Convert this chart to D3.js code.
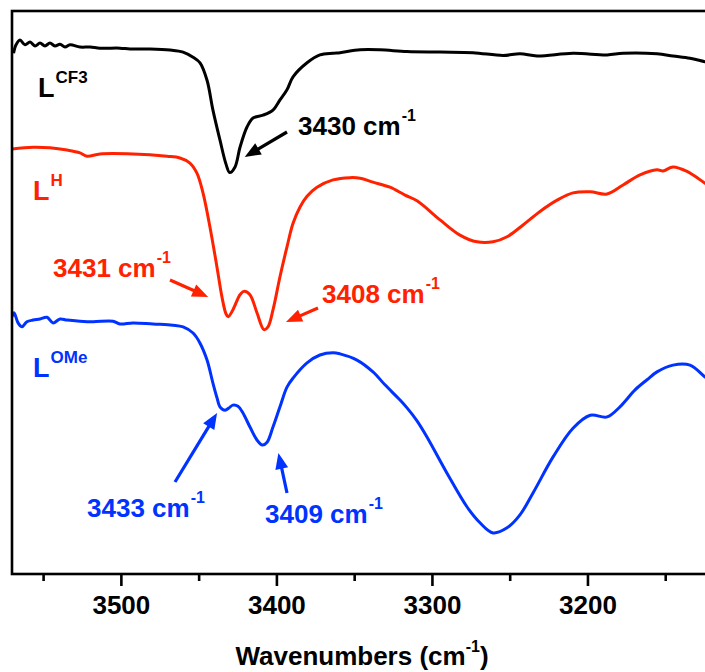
<!DOCTYPE html>
<html>
<head>
<meta charset="utf-8">
<script src="https://cdn.jsdelivr.net/npm/d3@7"></script>
<style>
  html, body { margin: 0; padding: 0; background: #fff; }
  svg { display: block; }
  text { font-family: "Liberation Sans", Arial, sans-serif; font-weight: bold; }
</style>
</head>
<body>
<svg id="chart" width="705" height="672"></svg>
<script>
// FT-IR spectra in the N–H stretching region (offset transmittance, a.u.)
const wnCF3 = [3569, 3567.4, 3564.9, 3561.6, 3558.4, 3555.2, 3552, 3548.8, 3545.6, 3542.4, 3539.1, 3535.9, 3532.7, 3526.3, 3519.8, 3513.4, 3500.6, 3494.1, 3481.3, 3468.4, 3460, 3453.6, 3449.1, 3444.6, 3440.8, 3436.3, 3432.4, 3430, 3426.6, 3423.4, 3418.9, 3415, 3408.6, 3402.2, 3397.7, 3393.2, 3389.3, 3380.3, 3372, 3363.6, 3359.1, 3346.2, 3333.4, 3316, 3294.8, 3273.6, 3254.3, 3243.3, 3232.4, 3209.3, 3187.4, 3177.1, 3155.3, 3145, 3134.1, 3124.4, 3120];
const tCF3  = [92.5, 94.0, 94.85, 94.0, 94.5, 93.8, 94.3, 93.8, 94.3, 93.8, 94.1, 93.6, 94.0, 93.6, 93.6, 93.4, 93.4, 93.25, 93.25, 93.07, 92.7, 91.8, 90.8, 87.7, 82.4, 77.1, 72.8, 71.3, 72.3, 75.8, 79.4, 81.0, 81.5, 82.4, 84.2, 86.0, 88.3, 90.8, 92.2, 92.5, 92.6, 93.1, 93.1, 92.8, 92.7, 92.6, 92.1, 92.4, 92.0, 92.5, 92.2, 92.5, 92.4, 92.0, 91.6, 91.0, 90.8];

const wnH = [3570, 3556.5, 3545.6, 3534.6, 3526.3, 3521.8, 3513.4, 3492.2, 3470.3, 3462, 3455.6, 3451.1, 3447.2, 3442.7, 3438.2, 3435, 3432.4, 3431, 3428, 3423.4, 3420.8, 3417, 3412.5, 3408, 3405.4, 3402.2, 3397.7, 3393.2, 3389.3, 3384.8, 3380.3, 3373.9, 3363.6, 3352.7, 3346.2, 3337.9, 3327, 3317.3, 3309.6, 3294.8, 3282, 3271, 3260.7, 3251.7, 3241.4, 3230.5, 3219.5, 3209.3, 3198.2, 3187.4, 3177.1, 3166.2, 3155.3, 3151.4, 3145, 3136, 3124.4, 3120];
const tH  = [75.5, 75.8, 75.7, 75.3, 74.8, 74.2, 74.6, 74.6, 74.2, 73.9, 73.0, 71.2, 67.7, 61.6, 54.5, 49.2, 46.2, 45.7, 46.9, 49.6, 50.2, 49.6, 46.4, 43.4, 43.9, 46.9, 52.8, 58.1, 62.3, 65.2, 67.1, 68.7, 70.0, 70.4, 70.3, 69.6, 68.7, 67.3, 66.3, 62.9, 60.2, 59.0, 59.0, 59.9, 62.0, 64.4, 66.4, 67.7, 67.9, 67.5, 69.1, 70.9, 71.8, 71.6, 72.3, 71.5, 69.4, 68.6];

const wnOMe = [3570, 3568.7, 3566.1, 3563.6, 3560.4, 3556.5, 3552, 3547.5, 3543.6, 3539.1, 3534.6, 3526.3, 3517.9, 3505.1, 3500.6, 3492.2, 3479.3, 3466.5, 3460, 3453.6, 3449.1, 3444.6, 3440.8, 3438.2, 3436.3, 3433, 3430.5, 3428, 3424.7, 3421.5, 3417, 3412.5, 3409, 3406, 3402.2, 3397.7, 3393.2, 3389.3, 3380.3, 3372, 3363.6, 3359.1, 3348.2, 3337.9, 3330.2, 3320.5, 3316, 3309.6, 3303.1, 3290.3, 3277.4, 3269.1, 3260.7, 3251.7, 3243.4, 3235, 3222.1, 3209.3, 3198.2, 3187.4, 3179.1, 3169.4, 3161.7, 3155.3, 3145, 3134.1, 3124.4, 3120];
const tOMe  = [45.7, 46.4, 44.6, 43.9, 44.8, 45.1, 45.3, 45.6, 44.6, 45.3, 45.1, 44.9, 44.8, 44.9, 44.4, 44.6, 44.4, 44.2, 43.9, 42.8, 41.0, 38.0, 33.9, 31.3, 29.7, 29.1, 29.5, 30.0, 29.8, 28.6, 26.1, 23.8, 22.9, 23.4, 26.1, 29.7, 33.2, 34.8, 37.5, 38.9, 39.3, 39.1, 38.0, 35.9, 33.6, 30.9, 29.5, 27.2, 24.3, 17.9, 11.9, 9.1, 7.3, 8.2, 10.5, 14.4, 20.8, 25.9, 28.2, 27.9, 29.7, 32.7, 34.5, 35.9, 37.1, 37.1, 35.0, 34.1];

const majorTicks = [3500, 3400, 3300, 3200];
const minorTicks = [3550, 3450, 3350, 3250, 3150];

// Series names and peak annotations
const seriesNames = ["L", "L", "L"];
const seriesSups  = ["CF3", "H", "OMe"];
const peakWn      = [3430, 3431, 3408, 3433, 3409];
const peakLabels  = ["3430", "3431", "3408", "3433", "3409"];

const colors = ["#000000", "#ff2200", "#0033ff"];

const svg = d3.select("#chart");
const mLeft = 12, mTop = 11, mBottom = 574;
const x = d3.scaleLinear().domain([3570, 3120]).range([mLeft, mLeft + 450 * 1.5553]);
const y = d3.scaleLinear().domain([0, 100]).range([mBottom, mTop]);

// spectra
const series = [
  d3.zip(wnCF3, tCF3),
  d3.zip(wnH, tH),
  d3.zip(wnOMe, tOMe)
];
const line = d3.line()
  .x(d => x(d[0]))
  .y(d => y(d[1]))
  .curve(d3.curveCatmullRom.alpha(0.5));

svg.append("clipPath").attr("id", "clip")
  .append("rect").attr("x", mLeft).attr("y", mTop).attr("width", 700).attr("height", mBottom - mTop);
svg.append("g").attr("clip-path", "url(#clip)")
  .selectAll("path").data(series).join("path")
  .attr("d", line)
  .attr("fill", "none")
  .attr("stroke", (d, i) => colors[i])
  .attr("stroke-width", 3)
  .attr("stroke-linejoin", "round");

// frame
svg.append("rect")
  .attr("x", mLeft).attr("y", mTop)
  .attr("width", x.range()[1] - mLeft).attr("height", mBottom - mTop)
  .attr("fill", "none").attr("stroke", "#000").attr("stroke-width", 2.6);

// bottom axis: major ticks with labels, minor ticks without
const axMajor = d3.axisBottom(x).tickValues(majorTicks).tickSize(12).tickPadding(9.5).tickSizeOuter(0).tickFormat(d3.format("d"));
const axMinor = d3.axisBottom(x).tickValues(minorTicks).tickSize(7).tickSizeOuter(0).tickFormat("");
const gMaj = svg.append("g").attr("transform", `translate(0,${mBottom})`).call(axMajor);
const gMin = svg.append("g").attr("transform", `translate(0,${mBottom})`).call(axMinor);
[gMaj, gMin].forEach(g => {
  g.select(".domain").remove();
  g.selectAll(".tick line").attr("stroke", "#000").attr("stroke-width", 2.6);
});
gMaj.selectAll(".tick text")
  .attr("fill", "#000")
  .style("font-size", "26px")
  .style("font-family", "'Liberation Sans', Arial, sans-serif")
  .style("font-weight", "bold");

// axis title
const title = svg.append("text")
  .attr("x", 362).attr("y", 665)
  .attr("text-anchor", "middle")
  .style("font-size", "26px");
title.append("tspan").text("Wavenumbers (cm");
title.append("tspan").attr("dy", -13).style("font-size", "16px").text("-1");
title.append("tspan").attr("dy", 13).text(")");

// series labels
const seriesLabelPos = [[38, 97], [33, 200], [33, 377]];
seriesNames.forEach((n, i) => {
  const t = svg.append("text")
    .attr("x", seriesLabelPos[i][0]).attr("y", seriesLabelPos[i][1])
    .attr("fill", colors[i]).style("font-size", "27px");
  t.append("tspan").text(n);
  t.append("tspan").attr("dx", 1).attr("dy", -14).style("font-size", "17px").text(seriesSups[i]);
});

// peak annotations: text position, arrow tail and tip offset from the peak
const peakColor = [0, 1, 1, 2, 2];
const peakText  = [[298, 135], [53, 277], [322, 303], [87, 517], [265, 523]];
const arrowTail = [[287, 132], [170, 280], [318, 308], [175, 482], [287, 493]];
const tipOffset = [[15, 157], [-20, 297], [22, 322], [-8, 413], [16, 453]];

function arrow(x1, y1, x2, y2, color) {
  const ang = Math.atan2(y2 - y1, x2 - x1);
  const L = 16, W = 6.5;
  const bx = x2 - L * Math.cos(ang), by = y2 - L * Math.sin(ang);
  svg.append("line")
    .attr("x1", x1).attr("y1", y1).attr("x2", bx + 2 * Math.cos(ang)).attr("y2", by + 2 * Math.sin(ang))
    .attr("stroke", color).attr("stroke-width", 3.2).attr("stroke-linecap", "butt");
  const px = -Math.sin(ang), py = Math.cos(ang);
  svg.append("path")
    .attr("d", `M${x2},${y2}L${bx + W * px},${by + W * py}L${bx - W * px},${by - W * py}Z`)
    .attr("fill", color);
}

peakWn.forEach((wn, i) => {
  const c = colors[peakColor[i]];
  const tx = x(wn) + tipOffset[i][0], ty = tipOffset[i][1];
  arrow(arrowTail[i][0], arrowTail[i][1], tx, ty, c);
  const t = svg.append("text")
    .attr("x", peakText[i][0]).attr("y", peakText[i][1])
    .attr("fill", c).style("font-size", "26px");
  t.append("tspan").text(peakLabels[i] + " cm");
  t.append("tspan").attr("dx", 1).attr("dy", -14).style("font-size", "16px").text("-1");
});
</script>
</body>
</html>
